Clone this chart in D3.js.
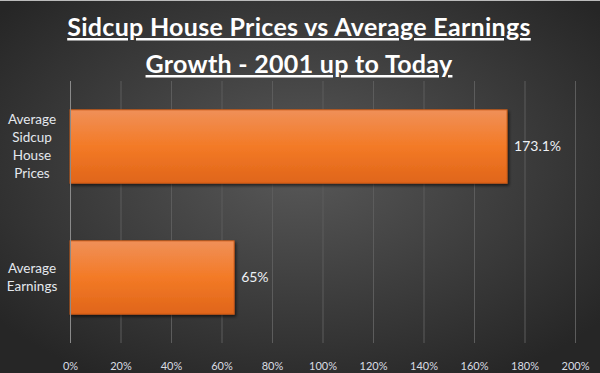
<!DOCTYPE html>
<html>
<head>
<meta charset="utf-8">
<script src="https://cdn.jsdelivr.net/npm/d3@7"></script>
<style>
  html, body { margin: 0; padding: 0; background: #333; }
  svg { display: block; }
</style>
</head>
<body>
<div id="chart"></div>
<script>
const titleLines = ["Sidcup House Prices vs Average Earnings", "Growth - 2001 up to Today"];
const categories = [["Average", "Sidcup", "House", "Prices"], ["Average", "Earnings"]];
const values = [173.1, 65];
const valueLabels = ["173.1%", "65%"];
const ticks = [0, 20, 40, 60, 80, 100, 120, 140, 160, 180, 200];

const width = 600, height = 373;
const margin = { top: 81, right: 25, bottom: 30, left: 70 };

const svg = d3.select("#chart").append("svg")
    .attr("width", width)
    .attr("height", height);

const defs = svg.append("defs");

// dark background, lighter in the middle
const bg = defs.append("radialGradient")
    .attr("id", "bg")
    .attr("cx", "50%").attr("cy", "45%").attr("r", "65%");
bg.append("stop").attr("offset", "0%").attr("stop-color", "#585858");
bg.append("stop").attr("offset", "100%").attr("stop-color", "#262626");

const barGrad = defs.append("linearGradient")
    .attr("id", "bar")
    .attr("x1", 0).attr("y1", 0).attr("x2", 0).attr("y2", 1);
barGrad.append("stop").attr("offset", "0%").attr("stop-color", "#f09058");
barGrad.append("stop").attr("offset", "50%").attr("stop-color", "#f37a26");
barGrad.append("stop").attr("offset", "100%").attr("stop-color", "#e0651a");

const shadow = defs.append("filter").attr("id", "shadow")
    .attr("x", "-5%").attr("y", "-10%").attr("width", "115%").attr("height", "130%");
shadow.append("feDropShadow")
    .attr("dx", 1.5).attr("dy", 2).attr("stdDeviation", 1.5)
    .attr("flood-color", "#000").attr("flood-opacity", 0.6);

svg.append("rect")
    .attr("width", width).attr("height", height)
    .attr("fill", "url(#bg)");
svg.append("line")
    .attr("x1", 0).attr("x2", width).attr("y1", 0.5).attr("y2", 0.5)
    .attr("stroke", "#bbb");

// title
const title = svg.append("g");
titleLines.forEach((t, i) => {
    title.append("text")
        .attr("x", 299)
        .attr("y", 36 + i * 37)
        .attr("text-anchor", "middle")
        .attr("font-family", "Lato, 'Open Sans', sans-serif")
        .attr("font-weight", "bold")
        .attr("font-size", "25px")
        .attr("letter-spacing", "0.3px")
        .attr("fill", "#fff")
        .attr("text-decoration", "underline")
        .text(t);
});

const x = d3.scaleLinear()
    .domain([0, 200])
    .range([margin.left, width - margin.right]);

const y = d3.scaleBand()
    .domain(d3.range(values.length))
    .range([margin.top, height - margin.bottom])
    .paddingInner(0.44)
    .paddingOuter(0.22);

// gridlines
svg.append("g")
    .selectAll("line")
    .data(ticks.slice(1))
    .join("line")
    .attr("x1", d => x(d) + 0.5).attr("x2", d => x(d) + 0.5)
    .attr("y1", margin.top).attr("y2", height - margin.bottom)
    .attr("stroke", "#5c5c5c")
    .attr("stroke-width", 1);

// x axis labels
const xAxis = svg.append("g")
    .attr("transform", `translate(0,${height - margin.bottom + 16})`)
    .call(d3.axisBottom(x).tickValues(ticks).tickFormat(d => d + "%").tickSize(0));
xAxis.select(".domain").remove();
xAxis.selectAll("text")
    .attr("fill", "#d9dde3")
    .attr("font-family", "Lato, 'Open Sans', sans-serif")
    .attr("font-size", "11px");

// bars
svg.append("g")
    .selectAll("rect")
    .data(values)
    .join("rect")
    .attr("x", x(0))
    .attr("y", (d, i) => y(i))
    .attr("width", d => x(d) - x(0))
    .attr("height", y.bandwidth())
    .attr("fill", "url(#bar)")
    .attr("stroke", "#c85a18")
    .attr("stroke-width", 1)
    .attr("filter", "url(#shadow)");

// vertical axis line at 0
svg.append("line")
    .attr("x1", x(0) + 0.5).attr("x2", x(0) + 0.5)
    .attr("y1", margin.top).attr("y2", height - margin.bottom)
    .attr("stroke", "#8a8a8a");

// category labels
categories.forEach((lines, i) => {
    const cy = y(i) + y.bandwidth() / 2;
    const lh = 18;
    const t = svg.append("text")
        .attr("text-anchor", "middle")
        .attr("font-family", "Lato, 'Open Sans', sans-serif")
        .attr("font-size", "13.5px")
        .attr("fill", "#e4e8ee");
    lines.forEach((l, j) => {
        t.append("tspan")
            .attr("x", 32)
            .attr("y", cy + (j - (lines.length - 1) / 2) * lh)
            .attr("dy", "0.35em")
            .text(l);
    });
});

// value labels
svg.append("g")
    .selectAll("text")
    .data(values)
    .join("text")
    .attr("x", d => x(d) + 7)
    .attr("y", (d, i) => y(i) + y.bandwidth() / 2)
    .attr("dy", "0.35em")
    .attr("font-family", "Lato, 'Open Sans', sans-serif")
    .attr("font-size", "14px")
    .attr("fill", "#eef1f5")
    .text((d, i) => valueLabels[i]);
</script>
</body>
</html>
